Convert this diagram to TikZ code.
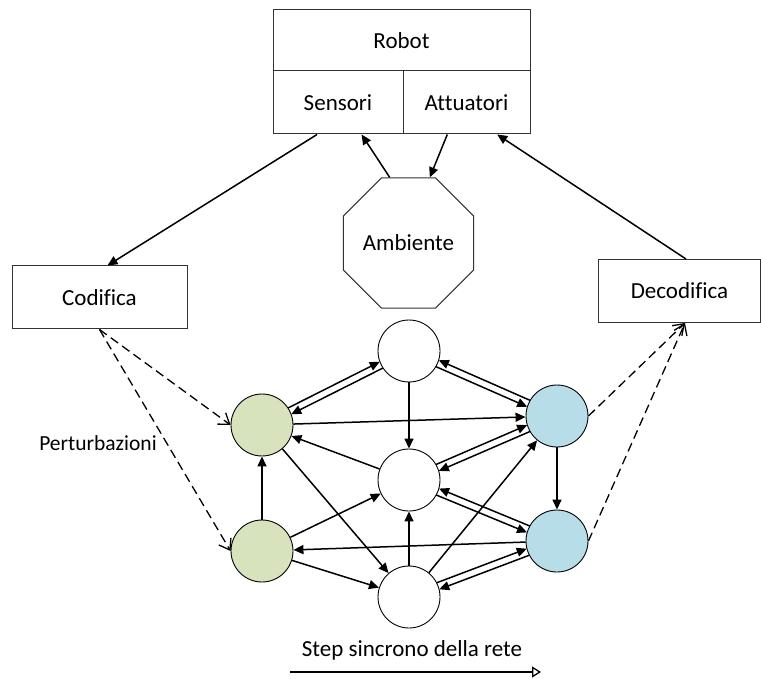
\documentclass[tikz,border=0pt]{standalone}
\usepackage{fontspec}
\setmainfont{Carlito}[Ligatures=NoCommon]
\usetikzlibrary{arrows.meta,calc,shapes.geometric}
\definecolor{gfill}{HTML}{D6E3BC}
\definecolor{bfill}{HTML}{B7DDE8}
\begin{document}
\begin{tikzpicture}[x=1pt,y=-1pt,
  lbl/.style={font=\fontsize{23}{27}\selectfont},
  box/.style={draw=black!80, line width=1pt, inner sep=0pt, lbl},
  neuron/.style={circle, draw, line width=0.9pt, minimum size=62pt, inner sep=0pt},
  arr/.style={line width=1.5pt, -{Triangle[length=10pt,width=9pt]}},
  pairarr/.style={arr, shorten <=31pt, shorten >=31pt},
  dasharr/.style={line width=1.3pt, dash pattern=on 9pt off 5pt, -{Straight Barb[length=10pt,width=14pt]}},
]
\useasboundingbox (0,0) rectangle (761,679);

% robot
\node[box, minimum width=257pt, minimum height=61pt] (robot) at (401.5,40.5) {Robot};
\node[box, minimum width=130pt, minimum height=63pt] (sens) at (338,102.5) {Sensori};
\node[box, minimum width=127pt, minimum height=63pt] (att) at (466.5,102.5) {Attuatori};

% ambiente
\node[draw=black!80, line width=1pt, regular polygon, regular polygon sides=8, minimum size=141pt, inner sep=0pt, lbl] (amb) at (408.5,243) {Ambiente};

% codifica / decodifica
\node[box, minimum width=175pt, minimum height=63pt] (cod) at (99.5,297.5) {Codifica};
\node[box, minimum width=162pt, minimum height=63pt] (dec) at (679.5,291) {Decodifica};

% neurons
\node[neuron] (T) at (409,351) {};
\node[neuron, fill=gfill] (G1) at (262,425) {};
\node[neuron, fill=bfill] (B1) at (557,416) {};
\node[neuron] (M) at (409,480) {};
\node[neuron, fill=gfill] (G2) at (262,551) {};
\node[neuron, fill=bfill] (B2) at (557,541) {};
\node[neuron] (Bo) at (409,597) {};

% robot connections
\draw[arr] ($(sens.south west)!0.34!(sens.south east)$) -- ($(cod.north)+(8,0)$);
\draw[arr] (amb.106) -- ($(sens.south west)!0.68!(sens.south east)$);
\draw[arr] ($(att.south west)!0.35!(att.south east)$) -- (amb.72);
\draw[arr] ($(dec.north)+(6.5,0)$) -- ($(att.south west)!0.74!(att.south east)$);

% perturbations and outputs
\draw[dasharr] (cod.south) -- (G1.west);
\draw[dasharr] (cod.south) -- (G2.west);
\draw[dasharr] (B1.east) -- ($(dec.south)+(5.5,0)$);
\draw[dasharr] (B2.east) -- ($(dec.south)+(5.5,0)$);
\node[font=\fontsize{21.5}{25}\selectfont] (pert) at (98,443) {Perturbazioni};

% paired connections
\draw[pairarr] ($(G1)!3.5pt!90:(T)$) -- ($(T)!3.5pt!-90:(G1)$);
\draw[pairarr] ($(T)!3.5pt!90:(G1)$) -- ($(G1)!3.5pt!-90:(T)$);
\draw[pairarr] ($(B1)!3.5pt!-90:(T)$) -- ($(T)!3.5pt!90:(B1)$);
\draw[pairarr] ($(T)!3.5pt!-90:(B1)$) -- ($(B1)!3.5pt!90:(T)$);
\draw[pairarr] ($(M)!3.5pt!90:(B1)$) -- ($(B1)!3.5pt!-90:(M)$);
\draw[pairarr] ($(B1)!3.5pt!90:(M)$) -- ($(M)!3.5pt!-90:(B1)$);
\draw[pairarr] ($(B2)!3.5pt!-90:(M)$) -- ($(M)!3.5pt!90:(B2)$);
\draw[pairarr] ($(M)!3.5pt!-90:(B2)$) -- ($(B2)!3.5pt!90:(M)$);
\draw[pairarr] ($(Bo)!3.5pt!90:(B2)$) -- ($(B2)!3.5pt!-90:(Bo)$);
\draw[pairarr] ($(B2)!3.5pt!90:(Bo)$) -- ($(Bo)!3.5pt!-90:(B2)$);

% single connections
\draw[arr] (T) -- (M);
\draw[arr] (G1) -- (B1);
\draw[arr] (M) -- (G1);
\draw[arr] (G1) -- (Bo);
\draw[arr] (Bo) -- (B1);
\draw[arr] (G2) -- (G1);
\draw[arr] (B1) -- (B2);
\draw[arr] (G2) -- (M);
\draw[arr] (Bo) -- (M);
\draw[arr] (B2) -- (G2);
\draw[arr] (G2) -- (Bo);

% step arrow
\node[lbl] (steptxt) at (412,650) {Step sincrono della rete};
\coordinate (s0) at (290,672);
\coordinate (s1) at (541,672);
\draw[line width=1.3pt, -{Triangle[open,length=9pt,width=11pt]}] (s0) -- (s1);
\end{tikzpicture}
\end{document}
